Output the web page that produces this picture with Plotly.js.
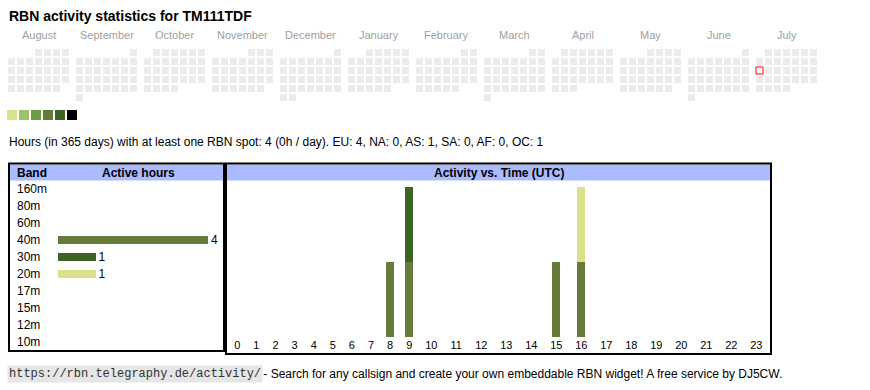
<!DOCTYPE html>
<html>
<head>
<meta charset="utf-8">
<script src="https://cdn.plot.ly/plotly-3.0.1.min.js"></script>
<style>
  html, body { margin: 0; padding: 0; background: #fff; }
  #chart { width: 870px; height: 390px; }
</style>
</head>
<body>
<div id="chart"></div>
<script>
// ---------------- DATA ----------------
const callsign = 'TM111TDF';
const months = ['August', 'September', 'October', 'November', 'December', 'January',
                'February', 'March', 'April', 'May', 'June', 'July'];
const startYear = 2024;
const startMonth = 7; // August (0-based)
const markedDay = '2025-07-14';

const bands = ['160m', '80m', '60m', '40m', '30m', '20m', '17m', '15m', '12m', '10m'];
const bandHours = [0, 0, 0, 4, 1, 1, 0, 0, 0, 0];

const hours = ['0','1','2','3','4','5','6','7','8','9','10','11',
               '12','13','14','15','16','17','18','19','20','21','22','23'];
const hours40m = [0,0,0,0,0,0,0,0,1,1,0,0,0,0,0,1,1,0,0,0,0,0,0,0];
const hours30m = [0,0,0,0,0,0,0,0,0,1,0,0,0,0,0,0,0,0,0,0,0,0,0,0];
const hours20m = [0,0,0,0,0,0,0,0,0,0,0,0,0,0,0,0,1,0,0,0,0,0,0,0];

const infoText = 'Hours (in 365 days) with at least one RBN spot: 4 (0h / day). EU: 4, NA: 0, AS: 1, SA: 0, AF: 0, OC: 1';
const footerUrl = 'https://rbn.telegraphy.de/activity/';
const footerText = ' - Search for any callsign and create your own embeddable RBN widget! A free service by DJ5CW.';

// ---------------- STYLE ----------------
const W = 870, H = 390;
const scaleColors = ['#d9e18a', '#9dc26b', '#6a9e45', '#667a3c', '#3b6426', '#000000'];
const bandColor = {'160m':'#9dc26b','80m':'#9dc26b','60m':'#9dc26b','40m':'#667a3c','30m':'#3b6426',
                   '20m':'#d9e18a','17m':'#6a9e45','15m':'#6a9e45','12m':'#6a9e45','10m':'#6a9e45'};
const FONT = 'Liberation Sans, Arial, Helvetica, sans-serif';
const P = x => x / W;
const Q = y => 1 - y / H;

// ---------------- CALENDAR (pixel axis) ----------------
const cx = [], cy = [];
let mx = null, my = null;
months.forEach((name, m) => {
  const yr = startYear + Math.floor((startMonth + m) / 12);
  const mo = (startMonth + m) % 12;
  const first = new Date(Date.UTC(yr, mo, 1));
  const wd0 = (first.getUTCDay() + 6) % 7;
  const nDays = new Date(Date.UTC(yr, mo + 1, 0)).getUTCDate();
  for (let d = 1; d <= nDays; d++) {
    const idx = wd0 + d - 1;
    const col = idx % 7, row = Math.floor(idx / 7);
    const x = 11.5 + 68 * m + 9 * col;
    const y = 52.5 + 9 * row;
    const iso = yr + '-' + String(mo + 1).padStart(2, '0') + '-' + String(d).padStart(2, '0');
    if (iso === markedDay) { mx = x; my = y; }
    else { cx.push(x); cy.push(y); }
  }
});

const traces = [];
traces.push({
  type: 'scatter', mode: 'markers', x: cx, y: cy, xaxis: 'x', yaxis: 'y',
  marker: {symbol: 'square', size: 7, color: '#ebebeb', line: {width: 0}},
  hoverinfo: 'skip'
});
if (mx !== null) {
  traces.push({
    type: 'scatter', mode: 'markers', x: [mx], y: [my], xaxis: 'x', yaxis: 'y',
    marker: {symbol: 'square', size: 7, color: '#ffffff', line: {width: 1, color: '#ff0000'}},
    hoverinfo: 'skip'
  });
}
// colour scale legend
traces.push({
  type: 'scatter', mode: 'markers',
  x: scaleColors.map((c, i) => 12 + 12 * i), y: scaleColors.map(() => 115),
  xaxis: 'x', yaxis: 'y',
  marker: {symbol: 'square', size: 10, color: scaleColors, line: {width: 0}},
  hoverinfo: 'skip'
});

// ---------------- BAND BAR CHART ----------------
traces.push({
  type: 'bar', orientation: 'h', xaxis: 'x2', yaxis: 'y2',
  y: bands, x: bandHours, width: 0.43,
  marker: {color: bands.map(b => bandColor[b])},
  text: bandHours.map(v => v > 0 ? String(v) : ''),
  textposition: 'outside', constraintext: 'none', cliponaxis: false,
  textfont: {family: FONT, size: 12, color: '#000'},
  hoverinfo: 'skip'
});

// ---------------- TIME CHART ----------------
const colW = hours.map(h => 13.2 + 5.9 * h.length);
const colCenter = [];
let acc = 0;
colW.forEach(w => { colCenter.push(acc + w / 2); acc += w; });
const timeTotal = acc;
const timeLeft = 227.75;

[['40m', hours40m], ['30m', hours30m], ['20m', hours20m]].forEach(([b, arr]) => {
  traces.push({
    type: 'bar', xaxis: 'x3', yaxis: 'y3',
    x: colCenter, y: arr, width: 8,
    marker: {color: bandColor[b], line: {width: 0}},
    hoverinfo: 'skip'
  });
});

// ---------------- ANNOTATIONS ----------------
const ann = [];
function txt(text, x, y, opts) {
  ann.push(Object.assign({
    text, x: P(x), y: Q(y), xref: 'paper', yref: 'paper', showarrow: false,
    xanchor: 'left', yanchor: 'middle', font: {family: FONT, size: 12, color: '#000'}
  }, opts || {}));
}
txt('<b>RBN activity statistics for ' + callsign + '</b>', 7, 16, {font: {family: FONT, size: 14, color: '#000'}});
months.forEach((name, m) => {
  txt(name, 8 + 68 * m + 30.5, 35, {xanchor: 'center', font: {family: FONT, size: 11, color: '#a0a0a0'}});
});
txt(infoText, 7, 142);
txt('<b>Band</b>', 15, 172.5);
txt('<b>Active hours</b>', 138, 172.5, {xanchor: 'center'});
txt('<b>Activity vs. Time (UTC)</b>', 499, 172.5, {xanchor: 'center'});
bands.forEach(b => {
  ann.push({text: b, x: P(15), xref: 'paper', y: b, yref: 'y2', showarrow: false,
            xanchor: 'left', yanchor: 'middle', font: {family: FONT, size: 12, color: '#000'}});
});
txt(footerUrl, 7, 374, {bgcolor: '#e6e6e6', borderpad: 1,
    font: {family: 'Liberation Mono, Courier New, monospace', size: 12, color: '#333'}});
txt(footerText, 258, 374, {font: {family: FONT, size: 12, color: '#000'}});

// ---------------- SHAPES ----------------
const shapes = [
  {type: 'rect', xref: 'paper', yref: 'paper', x0: P(10), x1: P(223), y0: Q(164.5), y1: Q(180.5),
   fillcolor: '#aabbff', line: {width: 0}, layer: 'below'},
  {type: 'rect', xref: 'paper', yref: 'paper', x0: P(227), x1: P(770), y0: Q(164.5), y1: Q(180.5),
   fillcolor: '#aabbff', line: {width: 0}, layer: 'below'},
  {type: 'rect', xref: 'paper', yref: 'paper', x0: P(9), x1: P(224), y0: Q(163.5), y1: Q(351),
   line: {width: 2, color: '#000'}, fillcolor: 'rgba(0,0,0,0)'},
  {type: 'rect', xref: 'paper', yref: 'paper', x0: P(226), x1: P(771), y0: Q(163.5), y1: Q(354),
   line: {width: 2, color: '#000'}, fillcolor: 'rgba(0,0,0,0)'}
];

const hidden = {visible: false, fixedrange: true};
const layout = {
  width: W, height: H,
  margin: {l: 0, r: 0, t: 0, b: 0, pad: 0},
  paper_bgcolor: '#ffffff', plot_bgcolor: 'rgba(0,0,0,0)',
  showlegend: false, hovermode: false, barmode: 'stack',
  font: {family: FONT, size: 12, color: '#000'},
  xaxis: Object.assign({domain: [0, 1], range: [0, W]}, hidden),
  yaxis: Object.assign({domain: [0, 1], range: [H, 0]}, hidden),
  xaxis2: Object.assign({domain: [P(58), P(208)], range: [0, 4], anchor: 'y2'}, hidden),
  yaxis2: Object.assign({domain: [Q(350.5), Q(180.5)], type: 'category', categoryarray: bands,
                         categoryorder: 'array', range: [bands.length - 0.5, -0.5], anchor: 'x2'}, hidden),
  xaxis3: {domain: [P(timeLeft), P(timeLeft + timeTotal)], range: [0, timeTotal], anchor: 'y3',
           tickmode: 'array', tickvals: colCenter, ticktext: hours, ticks: '',
           showgrid: false, zeroline: false, showline: false, fixedrange: true,
           tickfont: {family: FONT, size: 11, color: '#000'}},
  yaxis3: Object.assign({domain: [Q(337), Q(187)], range: [0, 2], anchor: 'x3'}, hidden),
  annotations: ann,
  shapes: shapes
};

Plotly.newPlot('chart', traces, layout, {displayModeBar: false, staticPlot: true});
</script>
</body>
</html>
